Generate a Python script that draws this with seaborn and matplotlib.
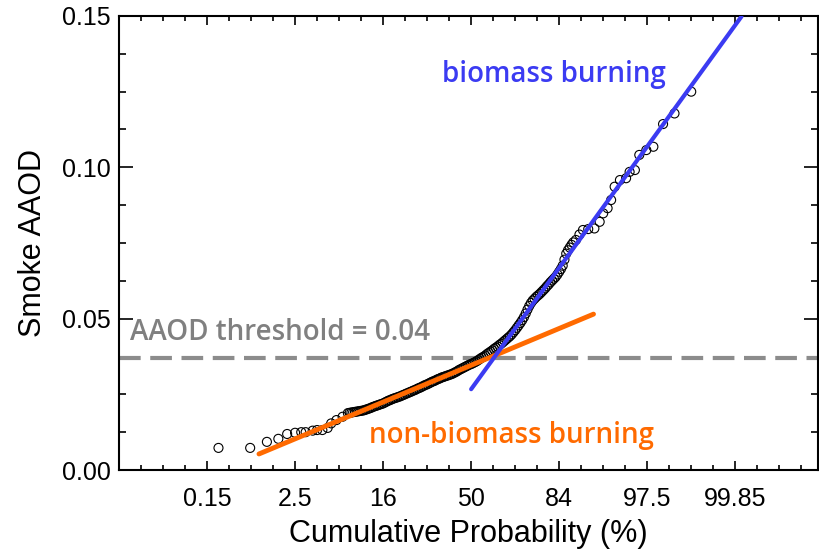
import matplotlib
matplotlib.use("Agg")
import matplotlib.pyplot as plt
from matplotlib.ticker import MultipleLocator, FixedLocator, FormatStrFormatter
import seaborn as sns
import pandas as pd

# normal quantile (sigma) of each sample and its smoke AAOD
quantile = [
    -2.87, -2.51, -2.32, -2.19, -2.09, -2.00, -1.93, -1.88, -1.80, -1.75,
    -1.69, -1.63, -1.59, -1.53, -1.46, -1.40, -1.38, -1.36, -1.34, -1.32,
    -1.30, -1.28, -1.26, -1.24, -1.22, -1.20, -1.18, -1.16, -1.14, -1.12,
    -1.10, -1.08, -1.06, -1.04, -1.02, -1.00, -0.98, -0.96, -0.94, -0.92,
    -0.90, -0.88, -0.86, -0.84, -0.82, -0.80, -0.78, -0.76, -0.74, -0.72,
    -0.70, -0.68, -0.66, -0.64, -0.62, -0.60, -0.58, -0.56, -0.54, -0.52,
    -0.50, -0.48, -0.46, -0.44, -0.42, -0.40, -0.38, -0.36, -0.34, -0.32,
    -0.30, -0.28, -0.26, -0.24, -0.22, -0.20, -0.18, -0.16, -0.14, -0.12,
    -0.10, -0.08, -0.06, -0.04, -0.02, 0.00, 0.02, 0.04, 0.06, 0.08,
    0.10, 0.12, 0.14, 0.16, 0.18, 0.20, 0.22, 0.24, 0.26, 0.28,
    0.30, 0.32, 0.34, 0.36, 0.38, 0.40, 0.42, 0.44, 0.46, 0.48,
    0.50, 0.52, 0.54, 0.56, 0.58, 0.60, 0.62, 0.64, 0.66, 0.68,
    0.70, 0.72, 0.74, 0.76, 0.78, 0.80, 0.82, 0.84, 0.86, 0.88,
    0.90, 0.92, 0.94, 0.96, 0.98, 1.00, 1.02, 1.04, 1.06, 1.08,
    1.10, 1.12, 1.14, 1.16, 1.19, 1.23, 1.27, 1.33, 1.40, 1.46,
    1.50, 1.55, 1.59, 1.63, 1.69, 1.76, 1.80, 1.86, 1.91, 1.99,
    2.07, 2.18, 2.31, 2.50,
]
aaod = [
    0.0073, 0.0073, 0.0093, 0.0103, 0.0119, 0.0123, 0.0125, 0.0125, 0.0130, 0.0132,
    0.0132, 0.0139, 0.0154, 0.0165, 0.0176, 0.0188, 0.0189, 0.0190, 0.0191, 0.0192,
    0.0193, 0.0194, 0.0195, 0.0196, 0.0197, 0.0199, 0.0201, 0.0203, 0.0205, 0.0208,
    0.0210, 0.0212, 0.0214, 0.0216, 0.0218, 0.0220, 0.0223, 0.0226, 0.0229, 0.0231,
    0.0234, 0.0236, 0.0238, 0.0240, 0.0242, 0.0244, 0.0247, 0.0249, 0.0252, 0.0254,
    0.0257, 0.0259, 0.0262, 0.0264, 0.0267, 0.0270, 0.0272, 0.0275, 0.0278, 0.0281,
    0.0283, 0.0286, 0.0289, 0.0292, 0.0294, 0.0297, 0.0300, 0.0302, 0.0305, 0.0307,
    0.0309, 0.0311, 0.0313, 0.0315, 0.0317, 0.0320, 0.0323, 0.0326, 0.0330, 0.0333,
    0.0336, 0.0339, 0.0342, 0.0345, 0.0348, 0.0350, 0.0353, 0.0356, 0.0359, 0.0363,
    0.0367, 0.0371, 0.0374, 0.0378, 0.0383, 0.0387, 0.0391, 0.0395, 0.0400, 0.0404,
    0.0408, 0.0413, 0.0417, 0.0422, 0.0427, 0.0432, 0.0437, 0.0442, 0.0448, 0.0455,
    0.0462, 0.0470, 0.0478, 0.0486, 0.0495, 0.0505, 0.0517, 0.0530, 0.0542, 0.0552,
    0.0560, 0.0566, 0.0572, 0.0577, 0.0582, 0.0588, 0.0594, 0.0600, 0.0607, 0.0613,
    0.0620, 0.0626, 0.0632, 0.0638, 0.0646, 0.0655, 0.0664, 0.0675, 0.0695, 0.0715,
    0.0726, 0.0735, 0.0744, 0.0752, 0.0760, 0.0778, 0.0793, 0.0796, 0.0798, 0.0820,
    0.0848, 0.0865, 0.0892, 0.0936, 0.0958, 0.0964, 0.0985, 0.0991, 0.1041, 0.1057,
    0.1068, 0.1143, 0.1178, 0.1250,
]

# fitted lines (end points in sigma / AAOD)
nonbb_x = [-2.41, 1.39]
nonbb_y = [0.0053, 0.0515]
bb_x = [0.0, 3.07]
bb_y = [0.0267, 0.1498]
threshold = 0.037

tick_sigma = [-3, -2, -1, 0, 1, 2, 3]
tick_labels = ["0.15", "2.5", "16", "50", "84", "97.5", "99.85"]

BLUE = "#3b3bf2"
ORANGE = "#ff6a00"
GREY = "#8c8c8c"

sns.set_theme(style="ticks")
plt.rcParams["font.family"] = ["Liberation Sans", "DejaVu Sans"]
plt.rcParams["text.color"] = "black"
plt.rcParams["axes.labelcolor"] = "black"

fig = plt.figure(figsize=(8.19, 5.5), dpi=100)
ax = fig.add_axes([119 / 819, 80 / 550, 699 / 819, 454 / 550])

df = pd.DataFrame({"q": quantile, "aaod": aaod})

ax.axhline(threshold, color=GREY, lw=3, dashes=(5.2, 2.3), zorder=1)
sns.scatterplot(data=df, x="q", y="aaod", ax=ax, s=42, marker="o",
                facecolor="none", edgecolor="black", linewidth=0.8, zorder=2)
sns.lineplot(x=nonbb_x, y=nonbb_y, ax=ax, color=ORANGE, lw=3.5, zorder=3)
sns.lineplot(x=bb_x, y=bb_y, ax=ax, color=BLUE, lw=3, zorder=3)

txt_font = ["Open Sans", "DejaVu Sans"]
ax.text(-3.88, 0.0429, "AAOD threshold = 0.04", color="#808080", fontsize=20,
        family=txt_font, weight="semibold", va="baseline")
ax.text(-0.33, 0.1283, "biomass burning", color=BLUE, fontsize=20,
        family=txt_font, weight="semibold", va="baseline")
ax.text(-1.16, 0.0088, "non-biomass burning", color=ORANGE, fontsize=20,
        family=txt_font, weight="semibold", va="baseline")

ax.set_xlim(-4, 3.94)
ax.set_ylim(0, 0.15)
ax.xaxis.set_major_locator(FixedLocator(tick_sigma))
ax.set_xticklabels(tick_labels)
ax.xaxis.set_minor_locator(MultipleLocator(0.25))
ax.yaxis.set_major_locator(MultipleLocator(0.05))
ax.yaxis.set_minor_locator(MultipleLocator(0.0125))
ax.yaxis.set_major_formatter(FormatStrFormatter("%.2f"))

ax.tick_params(axis="both", which="both", direction="in", top=True, right=True,
               colors="black", labelcolor="black", labelsize=18, width=1.2)
ax.tick_params(axis="x", which="major", length=6.5, pad=12)
ax.tick_params(axis="x", which="minor", length=3.6)
ax.tick_params(axis="y", which="major", length=10, pad=6)
ax.tick_params(axis="y", which="minor", length=5)
for sp in ax.spines.values():
    sp.set_visible(True)
    sp.set_linewidth(1.5)
    sp.set_color("black")

ax.set_xlabel("Cumulative Probability (%)", fontsize=22, labelpad=6)
ax.set_ylabel("Smoke AAOD", fontsize=22, labelpad=10)

fig.savefig("out.png", dpi=100)
plt.close(fig)
